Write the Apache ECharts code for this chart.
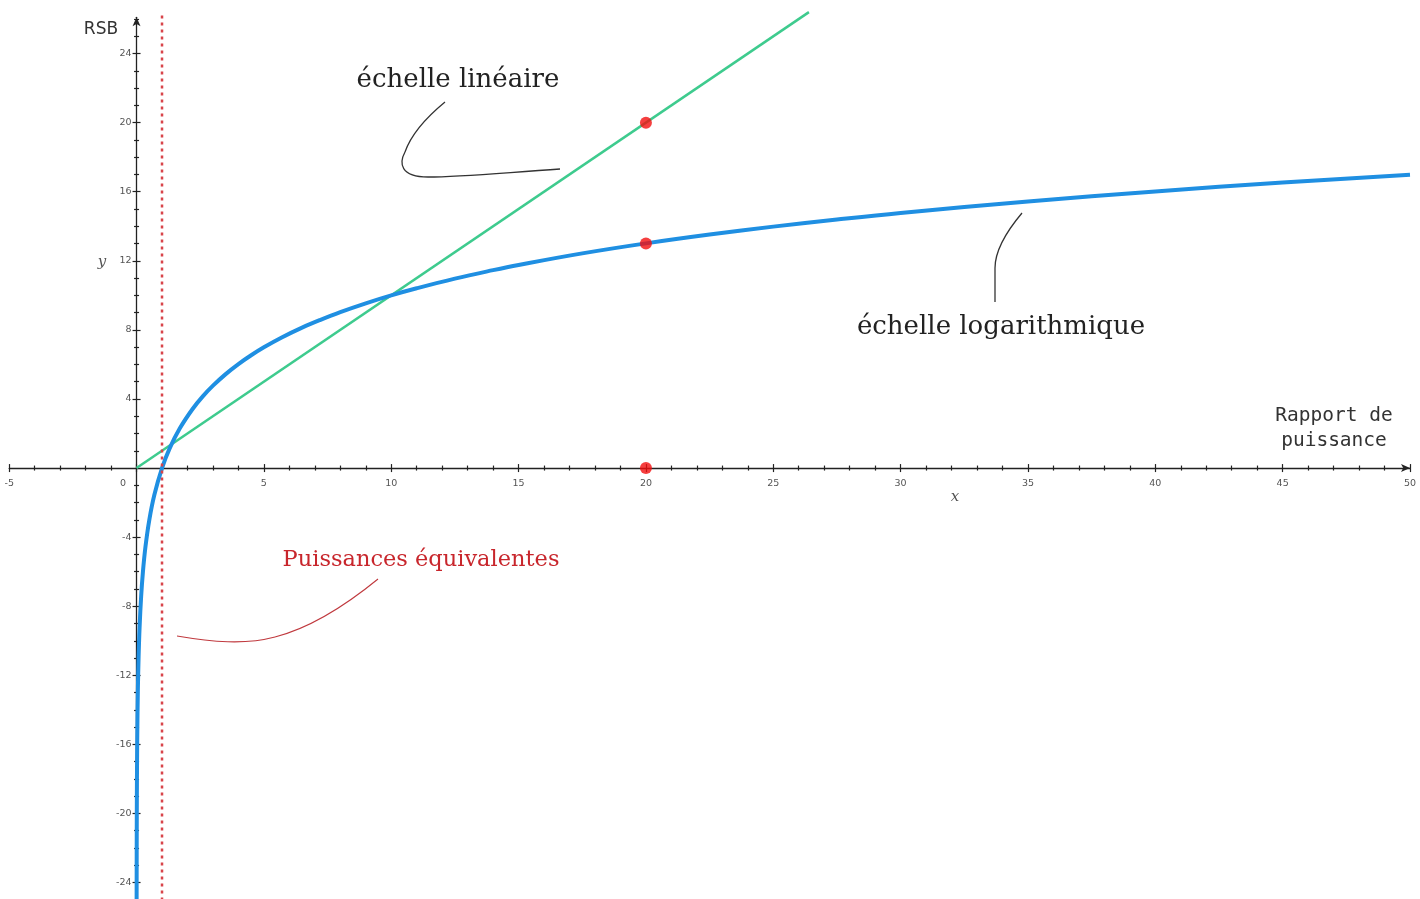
<!DOCTYPE html>
<html>
<head>
<meta charset="utf-8">
<title>RSB : échelle linéaire et logarithmique</title>
<script src="https://cdn.jsdelivr.net/npm/echarts@6/dist/echarts.min.js"></script>
<style>
  html, body { margin: 0; padding: 0; background: #ffffff; }
  #chart { width: 1420px; height: 899px; }
</style>
</head>
<body>
<div id="chart"></div>
<script>
// Rapport de puissance (x) et RSB en dB (y)
const logCurve = [
  [0.0025, -26.02], [0.0032, -24.95], [0.005, -23.01], [0.008, -20.97], [0.012, -19.21],
  [0.02, -16.99], [0.03, -15.23], [0.05, -13.01], [0.08, -10.97], [0.12, -9.21],
  [0.18, -7.45], [0.25, -6.02], [0.35, -4.56], [0.5, -3.01], [0.7, -1.55],
  [1, 0], [1.3, 1.14], [1.7, 2.3], [2.2, 3.42], [2.6, 4.15], [3, 4.77], [3.5, 5.44],
  [4, 6.02], [4.5, 6.53], [5, 6.99], [5.7, 7.56], [6.5, 8.13], [7.2, 8.57], [8, 9.03],
  [9, 9.54], [10, 10], [11, 10.41], [12.5, 10.97], [14, 11.46], [15, 11.76],
  [17.5, 12.43], [20, 13.01], [22.5, 13.52], [25, 13.98], [27.5, 14.39], [30, 14.77],
  [35, 15.44], [40, 16.02], [45, 16.53], [50, 16.99]
];
const linearLine = [[0, 0], [26.4, 26.4]];
const equalPowerLine = [[1, 26.2], [1, -26]];
const markerPoints = [[20, 20], [20, 13], [20, 0]];

const xTickValues = [-5, 0, 5, 10, 15, 20, 25, 30, 35, 40, 45, 50];
const yTickValues = [-24, -20, -16, -12, -8, -4, 4, 8, 12, 16, 20, 24];

const X_MIN = -5, X_MAX = 50, Y_MIN = -26, Y_MAX = 26.1;

// unit ticks between the labelled ones
const xMinorValues = [];
for (let v = X_MIN; v <= X_MAX; v++) if (v % 5 !== 0) xMinorValues.push(v);
const yMinorValues = [];
for (let v = -26; v <= 26; v++) if (v % 4 !== 0) yMinorValues.push(v);

const GRID = { left: 9.2, top: 17.3, width: 1400.8, height: 899.8 };
// pixel position of the origin inside the grid, used to pull the labelled axes onto it
const zeroX = GRID.left + (0 - X_MIN) / (X_MAX - X_MIN) * GRID.width;
const zeroY = GRID.top + (Y_MAX - 0) / (Y_MAX - Y_MIN) * GRID.height;
const xAxisOffset = zeroY - (GRID.top + GRID.height);
const yAxisOffset = GRID.left - zeroX;

const AXIS_COLOR = '#222';
const LABEL_COLOR = '#555';
const LABEL_SIZE = 9.5;
const axisLineBase = {
  symbol: ['none', 'arrow'], symbolSize: [6, 9],
  lineStyle: { color: AXIS_COLOR, width: 1.3 }
};

// Labelled axis: carries the line, the arrow, the outer half of the ticks and the labels.
function mainXAxis() {
  return {
    type: 'value', min: X_MIN, max: X_MAX, position: 'bottom', offset: xAxisOffset,
    axisLine: Object.assign({ show: true, onZero: false }, axisLineBase),
    axisTick: { show: true, customValues: xTickValues, length: 4, lineStyle: { color: AXIS_COLOR, width: 1.2 } },
    axisLabel: {
      show: true, customValues: xTickValues, margin: 10,
      fontSize: LABEL_SIZE, color: LABEL_COLOR, fontFamily: 'DejaVu Sans',
      formatter: function (v) { return v === 0 ? '{o|0}' : String(v); },
      rich: { o: { fontSize: LABEL_SIZE, color: LABEL_COLOR, fontFamily: 'DejaVu Sans', padding: [0, 27, 0, 0] } }
    },
    splitLine: { show: false }
  };
}
function mainYAxis() {
  return {
    type: 'value', min: Y_MIN, max: Y_MAX, position: 'left', offset: yAxisOffset,
    axisLine: Object.assign({ show: true, onZero: false }, axisLineBase),
    axisTick: { show: true, customValues: yTickValues, length: 4, lineStyle: { color: AXIS_COLOR, width: 1.2 } },
    axisLabel: {
      show: true, customValues: yTickValues, margin: 5,
      fontSize: LABEL_SIZE, color: LABEL_COLOR, fontFamily: 'DejaVu Sans'
    },
    splitLine: { show: false }
  };
}
// Tick-only twins sitting on the origin, so every tick crosses the axis line.
function tickXAxis(position, ticks, len) {
  return {
    type: 'value', min: X_MIN, max: X_MAX, position: position,
    axisLine: { show: false, onZero: true, onZeroAxisIndex: 0 },
    axisTick: { show: true, customValues: ticks, length: len, lineStyle: { color: AXIS_COLOR, width: 1.2 } },
    axisLabel: { show: false }, splitLine: { show: false }
  };
}
function tickYAxis(position, ticks, len) {
  return {
    type: 'value', min: Y_MIN, max: Y_MAX, position: position,
    axisLine: { show: false, onZero: true, onZeroAxisIndex: 0 },
    axisTick: { show: true, customValues: ticks, length: len, lineStyle: { color: AXIS_COLOR, width: 1.2 } },
    axisLabel: { show: false }, splitLine: { show: false }
  };
}

const chart = echarts.init(document.getElementById('chart'), null, { renderer: 'canvas' });

const serifFont = '"DejaVu Serif", serif';
const inkStyle = { fill: 'none', stroke: '#333', lineWidth: 1.3 };
const redInkStyle = { fill: 'none', stroke: '#c0393e', lineWidth: 1.1 };

chart.setOption({
  animation: false,
  backgroundColor: '#ffffff',
  grid: {
    left: GRID.left, top: GRID.top, width: GRID.width, height: GRID.height,
    containLabel: false, outerBoundsMode: 'none'
  },
  xAxis: [
    mainXAxis(),
    tickXAxis('top', xTickValues, 4),
    tickXAxis('bottom', xMinorValues, 2.5),
    tickXAxis('top', xMinorValues, 2.5)
  ],
  yAxis: [
    mainYAxis(),
    tickYAxis('right', yTickValues, 4),
    tickYAxis('left', yMinorValues, 2.5),
    tickYAxis('right', yMinorValues, 2.5)
  ],
  series: [
    {
      name: 'échelle linéaire', type: 'line', data: linearLine,
      xAxisIndex: 0, yAxisIndex: 0, symbol: 'none', clip: false, z: 3,
      lineStyle: { color: '#3ecb8e', width: 2.5 }
    },
    {
      name: 'échelle logarithmique', type: 'line', data: logCurve,
      xAxisIndex: 0, yAxisIndex: 0, symbol: 'none', smooth: 0.4, z: 4,
      lineStyle: { color: '#1f8fe2', width: 4 }
    },
    {
      name: 'Puissances équivalentes', type: 'line', data: equalPowerLine,
      xAxisIndex: 0, yAxisIndex: 0, symbol: 'none', clip: false, z: 5,
      lineStyle: { color: '#d8444a', width: 2.5, type: [3, 4] }
    },
    {
      type: 'scatter', data: markerPoints, xAxisIndex: 0, yAxisIndex: 0,
      symbolSize: 12, z: 6, itemStyle: { color: '#f20f0f' }
    }
  ],
  graphic: [
    // axis titles
    { type: 'text', x: 101, y: 30, style: { text: 'RSB', font: '17px "DejaVu Sans"', fill: '#333', textAlign: 'center', textVerticalAlign: 'middle' } },
    { type: 'text', x: 102, y: 262, style: { text: 'y', font: 'italic 15px "DejaVu Serif"', fill: '#555', textAlign: 'center', textVerticalAlign: 'middle' } },
    { type: 'text', x: 955, y: 497, style: { text: 'x', font: 'italic 15px "DejaVu Serif"', fill: '#555', textAlign: 'center', textVerticalAlign: 'middle' } },
    { type: 'text', x: 1334, y: 416, style: { text: 'Rapport de', font: '19.5px "DejaVu Sans Mono"', fill: '#333', textAlign: 'center', textVerticalAlign: 'middle' } },
    { type: 'text', x: 1334, y: 441, style: { text: 'puissance', font: '19.5px "DejaVu Sans Mono"', fill: '#333', textAlign: 'center', textVerticalAlign: 'middle' } },

    // curve captions
    { type: 'text', x: 458, y: 80, style: { text: 'échelle linéaire', font: '26px ' + serifFont, fill: '#222', textAlign: 'center', textVerticalAlign: 'middle' } },
    { type: 'text', x: 1001, y: 327, style: { text: 'échelle logarithmique', font: '26px ' + serifFont, fill: '#222', textAlign: 'center', textVerticalAlign: 'middle' } },
    { type: 'text', x: 421, y: 560, style: { text: 'Puissances équivalentes', font: '22.5px ' + serifFont, fill: '#c8262c', textAlign: 'center', textVerticalAlign: 'middle' } },

    // hand-drawn leaders
    { type: 'bezierCurve', shape: { x1: 560, y1: 169, cpx1: 500, cpy1: 173, cpx2: 460, cpy2: 177, x2: 428, y2: 177 }, style: inkStyle },
    { type: 'bezierCurve', shape: { x1: 428, y1: 177, cpx1: 400, cpy1: 177, cpx2: 399, cpy2: 163, x2: 405, y2: 152 }, style: inkStyle },
    { type: 'bezierCurve', shape: { x1: 405, y1: 152, cpx1: 412, cpy1: 132, cpx2: 428, cpy2: 116, x2: 445, y2: 102 }, style: inkStyle },

    { type: 'bezierCurve', shape: { x1: 1022, y1: 213, cpx1: 1006, cpy1: 232, cpx2: 995, cpy2: 250, x2: 995, y2: 268 }, style: inkStyle },
    { type: 'line', shape: { x1: 995, y1: 268, x2: 995, y2: 302 }, style: inkStyle },

    { type: 'bezierCurve', shape: { x1: 378, y1: 579, cpx1: 345, cpy1: 606, cpx2: 310, cpy2: 628, x2: 275, y2: 637 }, style: redInkStyle },
    { type: 'bezierCurve', shape: { x1: 275, y1: 637, cpx1: 245, cpy1: 645, cpx2: 212, cpy2: 642, x2: 177, y2: 636 }, style: redInkStyle }
  ]
});
</script>
</body>
</html>
